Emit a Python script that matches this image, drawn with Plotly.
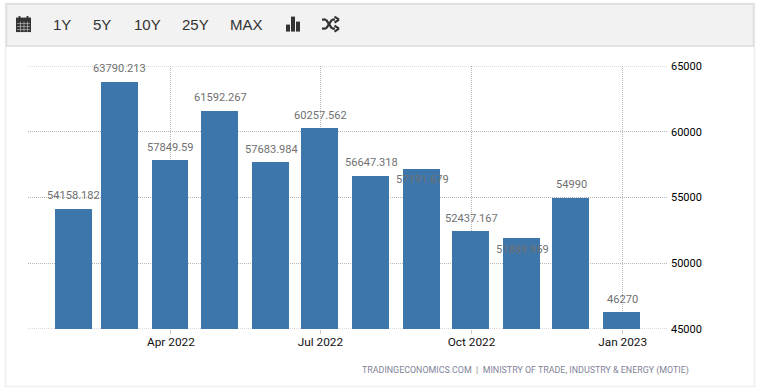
import plotly.graph_objects as go

dates = ["2022-02-01", "2022-03-01", "2022-04-01", "2022-05-01", "2022-06-01", "2022-07-01",
         "2022-08-01", "2022-09-01", "2022-10-01", "2022-11-01", "2022-12-01", "2023-01-01"]
values = [54158.182, 63790.213, 57849.59, 61592.267, 57683.984, 60257.562,
          56647.318, 57191.679, 52437.167, 51889.959, 54990, 46270]
label_inside = [False, False, False, False, False, False, False, True, False, True, False, False]
x_tick_dates = ["2022-04-01", "2022-07-01", "2022-10-01", "2023-01-01"]
x_tick_labels = ["Apr 2022", "Jul 2022", "Oct 2022", "Jan 2023"]
y_ticks = [45000, 50000, 55000, 60000, 65000]
y_edges = [45000, 65000]
toolbar_labels = ["1Y", "5Y", "10Y", "25Y", "MAX"]
toolbar_centres = [62, 102, 147, 195, 246]
source = "TRADINGECONOMICS.COM  |  MINISTRY OF TRADE, INDUSTRY & ENERGY (MOTIE)"

W, H = 761, 392
L, R, T, B = 28, 667, 65.5, 329
FONT = "Liberation Sans"
LABEL_FONT = "Roboto"
BLUE = "#3d76ab"
GRID = "#b5b5b5"
DAY = 86400000


def px(x):
    return (x - L) / (R - L)


def py(y):
    return (B - y) / (B - T)


def box(x0, y0, x1, y1, fill=None, line=None, width=1):
    return dict(type="rect", xref="paper", yref="paper", x0=px(x0), x1=px(x1), y0=py(y0), y1=py(y1),
                fillcolor=fill or "rgba(0,0,0,0)", line=dict(color=line or "rgba(0,0,0,0)", width=width if line else 0),
                layer="below")


def seg(x0, y0, x1, y1, color="#333333", width=2):
    return dict(type="line", xref="paper", yref="paper", x0=px(x0), x1=px(x1), y0=py(y0), y1=py(y1),
                line=dict(color=color, width=width))


shapes = [
    box(5.5, 3, 754.5, 386.5, "#ffffff", "#eeeeee", 1.5),
    box(6.5, 3.5, 753.5, 45.5, "#f2f2f2", "#dddddd", 1.5),
    # calendar icon
    box(16, 19, 31, 31.5, "#333333"),
    box(16, 17, 31, 20, "#333333"),
    seg(19.5, 15.5, 19.5, 18),
    seg(27.5, 15.5, 27.5, 18),
    seg(17, 23, 30, 23, "#cccccc", 0.6),
    seg(17, 26, 30, 26, "#cccccc", 0.6),
    seg(17, 29, 30, 29, "#cccccc", 0.6),
    seg(20.5, 21, 20.5, 31, "#cccccc", 0.6),
    seg(24, 21, 24, 31, "#cccccc", 0.6),
    seg(27.5, 21, 27.5, 31, "#cccccc", 0.6),
    # bar icon
    box(286, 24, 290, 31, "#333333"),
    box(291, 16, 295, 31, "#333333"),
    box(296, 21, 300, 31, "#333333"),
    # shuffle icon
    seg(322, 19, 326, 19, width=2.2),
    seg(326, 19, 332, 28, width=2.2),
    seg(332, 28, 335, 28, width=2.2),
    seg(322, 28, 326, 28, width=2.2),
    seg(326, 28, 332, 19, width=2.2),
    seg(332, 19, 335, 19, width=2.2),
    seg(334.5, 16, 339, 19, width=2),
    seg(339, 19, 334.5, 22, width=2),
    seg(334.5, 25, 339, 28, width=2),
    seg(339, 28, 334.5, 31, width=2),
]
for e in y_edges:
    shapes.append(dict(type="line", xref="paper", yref="y", x0=0, x1=1, y0=e, y1=e, layer="below",
                       line=dict(color=GRID, width=1, dash="1px,1px")))

annotations = [
    dict(text=t, xref="paper", yref="paper", x=px(c), y=py(24), xanchor="center", yanchor="middle",
         showarrow=False, font=dict(family=FONT, size=15, color="#333333"))
    for t, c in zip(toolbar_labels, toolbar_centres)
]
annotations.append(dict(text=source, xref="paper", yref="paper", x=px(691), y=py(371), xanchor="right",
                        yanchor="middle", showarrow=False, font=dict(family=LABEL_FONT, size=8.9, color="#7f8499")))
for d, v, inside in zip(dates, values, label_inside):
    annotations.append(dict(text=str(v), x=d, y=v, xref="x", yref="y", showarrow=False, xanchor="center",
                            yanchor="middle", yshift=-11 if inside else 13,
                            font=dict(family=LABEL_FONT, size=11.1, color="#707070")))

fig = go.Figure(go.Bar(
    x=dates, y=values, width=22.5 * DAY, offset=-11.8 * DAY, marker=dict(color=BLUE, line=dict(width=0)),
    hoverinfo="skip",
))
fig.update_layout(
    width=W, height=H, autosize=False, showlegend=False, plot_bgcolor="rgba(0,0,0,0)", paper_bgcolor="#ffffff",
    margin=dict(l=L, r=W - R, t=T, b=H - B, pad=0), shapes=shapes, annotations=annotations, bargap=0,
    xaxis=dict(type="date", range=["2022-01-04", "2023-01-28"], tickmode="array", tickvals=x_tick_dates,
               ticktext=x_tick_labels, ticks="outside", ticklen=4, tickcolor="#cccccc", tickwidth=1,
               ticklabelstandoff=-2,
               showgrid=True, gridcolor=GRID, griddash="1px,1px", gridwidth=1, showline=False, zeroline=False,
               tickfont=dict(family=LABEL_FONT, size=11.8, color="#111111")),
    yaxis=dict(range=[45000, 65000], side="right", tickmode="array", tickvals=y_ticks, tickformat="d", ticks="",
               ticklen=0, showgrid=True, gridcolor=GRID, griddash="1px,1px", gridwidth=1, showline=False,
               zeroline=False, ticklabelstandoff=3, tickfont=dict(family=LABEL_FONT, size=11, color="#000000")),
)
fig.write_html("out.html", config={"displayModeBar": False},
               post_script="document.body.style.margin='0';document.body.style.overflow='hidden';")
